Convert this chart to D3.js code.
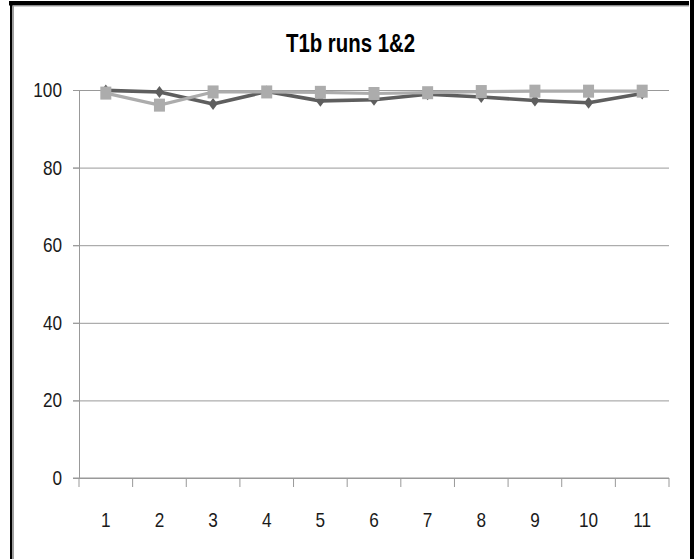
<!DOCTYPE html>
<html>
<head>
<meta charset="utf-8">
<script src="https://cdn.jsdelivr.net/npm/d3@7"></script>
<style>
  body { margin: 0; background: #fff; }
  svg { display: block; }
</style>
</head>
<body>
<svg id="chart" width="698" height="559"></svg>
<script>
// Chart data
const chartTitle = "T1b runs 1&2";
const categories = ["1", "2", "3", "4", "5", "6", "7", "8", "9", "10", "11"];
const run1 = [99.9, 99.5, 96.4, 99.6, 97.2, 97.5, 98.9, 98.2, 97.3, 96.7, 99.1];
const run2 = [99.2, 96.1, 99.5, 99.5, 99.4, 99.1, 99.3, 99.6, 99.7, 99.7, 99.7];
const yTicks = [0, 20, 40, 60, 80, 100];

const svg = d3.select("#chart");
const FONT = "'Liberation Sans', Arial, sans-serif";

// Outer frame
svg.append("rect").attr("x", 9).attr("y", 1).attr("width", 680).attr("height", 4.5).attr("fill", "#000");
svg.append("rect").attr("x", 12).attr("y", 5.5).attr("width", 677).attr("height", 1).attr("fill", "#a0a0a0");
svg.append("rect").attr("x", 10).attr("y", 5).attr("width", 2.4).attr("height", 554).attr("fill", "#000");
svg.append("rect").attr("x", 12.4).attr("y", 6).attr("width", 1.6).attr("height", 553).attr("fill", "#a0a0a0");
svg.append("rect").attr("x", 690).attr("y", 0).attr("width", 4).attr("height", 559).attr("fill", "#000");

// Scales
const x = d3.scaleBand().domain(categories).range([79, 669]);
const y = d3.scaleLinear().domain([0, 100]).range([478, 90]);
const cx = c => x(c) + x.bandwidth() / 2;

// Title
svg.append("text")
  .attr("transform", "translate(350.5,52) scale(0.8,1)")
  .attr("text-anchor", "middle")
  .attr("font-family", FONT)
  .attr("font-weight", "bold")
  .attr("font-size", 25.5)
  .attr("fill", "#000")
  .text(chartTitle);

// Horizontal gridlines
const grid = svg.append("g")
  .attr("transform", "translate(73,0)")
  .call(d3.axisLeft(y).tickValues(yTicks).tickSize(-596).tickFormat(""));
grid.select(".domain").remove();
grid.selectAll(".tick line").attr("stroke", "#999").attr("stroke-width", 1);

// Y axis
const yAxis = svg.append("g")
  .attr("transform", "translate(79,0)")
  .call(d3.axisLeft(y).tickValues(yTicks).tickSize(6));
yAxis.select(".domain").attr("stroke", "#999");
yAxis.selectAll(".tick line").attr("stroke", "#999");
yAxis.selectAll(".tick text")
  .attr("x", null)
  .attr("transform", "translate(-17,0) scale(0.86,1)")
  .attr("text-anchor", "end")
  .attr("font-family", FONT)
  .attr("font-size", 20)
  .attr("fill", "#1a1a1a");

// X axis: labels under categories, tick marks on category boundaries
const xAxis = svg.append("g")
  .attr("transform", "translate(0,478)")
  .call(d3.axisBottom(x).tickSize(0));
xAxis.select(".domain").remove();
xAxis.selectAll(".tick text")
  .attr("y", 49)
  .attr("dy", 0)
  .attr("transform", "scale(0.86,1)")
  .attr("font-family", FONT)
  .attr("font-size", 20)
  .attr("fill", "#1a1a1a");

const boundaries = categories.map(c => x(c)).concat([x.range()[1]]);
svg.append("g").selectAll("line")
  .data(boundaries)
  .join("line")
  .attr("x1", d => d).attr("x2", d => d)
  .attr("y1", 478).attr("y2", 487)
  .attr("stroke", "#999");
svg.append("line")
  .attr("x1", 73).attr("x2", 669)
  .attr("y1", y(0)).attr("y2", y(0))
  .attr("stroke", "#999");

// Series lines
const line = d3.line().x((d, i) => cx(categories[i])).y(d => y(d));

svg.append("path")
  .datum(run1)
  .attr("d", line)
  .attr("fill", "none")
  .attr("stroke", "#5e5e5e")
  .attr("stroke-width", 3.6)
  .attr("stroke-linejoin", "round");

svg.append("g").selectAll("path")
  .data(run1)
  .join("path")
  .attr("d", "M0,-6L4.5,0L0,6L-4.5,0Z")
  .attr("transform", (d, i) => `translate(${cx(categories[i])},${y(d)})`)
  .attr("fill", "#5e5e5e");

svg.append("path")
  .datum(run2)
  .attr("d", line)
  .attr("fill", "none")
  .attr("stroke", "#acacac")
  .attr("stroke-width", 3.2)
  .attr("stroke-linejoin", "round");

svg.append("g").selectAll("rect")
  .data(run2)
  .join("rect")
  .attr("x", (d, i) => cx(categories[i]) - 5.5)
  .attr("y", d => y(d) - 6.5)
  .attr("width", 11)
  .attr("height", 13)
  .attr("fill", "#acacac");
</script>
</body>
</html>
